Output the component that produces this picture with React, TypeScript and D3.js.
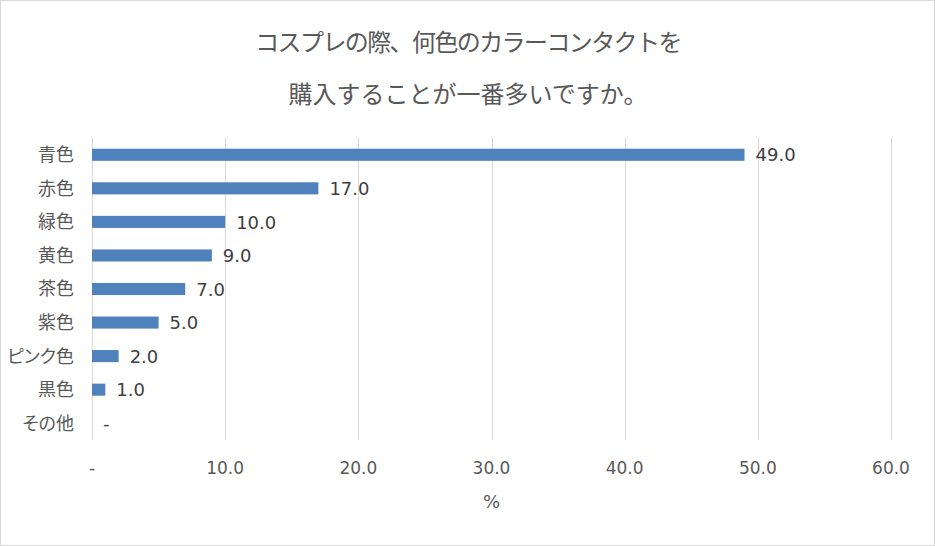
import React, { useRef, useEffect } from "react";
import * as d3 from "d3";

// chart data
const categories = ["青色", "赤色", "緑色", "黄色", "茶色", "紫色", "ピンク色", "黒色", "その他"];
const values = [49.0, 17.0, 10.0, 9.0, 7.0, 5.0, 2.0, 1.0, 0];
const xTicks = [0, 10, 20, 30, 40, 50, 60];
const titleLines = ["コスプレの際、何色のカラーコンタクトを", "購入することが一番多いですか。"];
const axisTitle = "%";

const W = 935;
const H = 546;
const JP = "'Noto Sans CJK JP', 'Noto Sans', sans-serif";
const NUM = "'DejaVu Sans', 'Noto Sans', sans-serif";

// excel style: zero shows as "-"
const fmt = (v: number) => (v === 0 ? "-" : v.toFixed(1));

function BarChart() {
  const svgRef = useRef<SVGSVGElement>(null);

  useEffect(() => {
    const svg = d3.select(svgRef.current);
    svg.selectAll("*").remove();

    const x = d3.scaleLinear().domain([0, 60]).range([92, 891]);
    const y = d3.scaleBand().domain(categories).range([138, 440]).paddingInner(0.64).paddingOuter(0.32);

    // frame
    svg
      .append("rect")
      .attr("x", 0.5)
      .attr("y", 0.5)
      .attr("width", W - 1)
      .attr("height", H - 1)
      .attr("fill", "#fff")
      .attr("stroke", "#d9d9d9");

    // title (first line is a bit tighter in the original)
    svg
      .selectAll(".title")
      .data(titleLines)
      .join("text")
      .attr("class", "title")
      .attr("x", 468)
      .attr("y", (d, i) => 51 + i * 52)
      .attr("text-anchor", "middle")
      .attr("font-family", JP)
      .attr("font-size", 24)
      .attr("letter-spacing", (d, i) => (i === 0 ? -1.6 : 0))
      .attr("fill", "#595959")
      .text((d) => d);

    // gridlines
    svg
      .selectAll(".grid")
      .data(xTicks)
      .join("line")
      .attr("class", "grid")
      .attr("x1", (d) => Math.round(x(d)) + 0.5)
      .attr("x2", (d) => Math.round(x(d)) + 0.5)
      .attr("y1", 138)
      .attr("y2", 440)
      .attr("stroke", "#d9d9d9");

    // tick labels
    svg
      .selectAll(".tick-label")
      .data(xTicks)
      .join("text")
      .attr("class", "tick-label")
      .attr("x", (d) => x(d))
      .attr("y", 474)
      .attr("text-anchor", "middle")
      .attr("font-family", NUM)
      .attr("font-size", 17)
      .attr("fill", "#595959")
      .text((d) => fmt(d));

    // axis title
    svg
      .append("text")
      .attr("x", x(30))
      .attr("y", 508)
      .attr("text-anchor", "middle")
      .attr("font-family", NUM)
      .attr("font-size", 18)
      .attr("fill", "#595959")
      .text(axisTitle);

    // category labels
    svg
      .selectAll(".cat")
      .data(categories)
      .join("text")
      .attr("class", "cat")
      .attr("x", 74)
      .attr("y", (d) => y(d)! + y.bandwidth() / 2)
      .attr("dy", "0.36em")
      .attr("text-anchor", "end")
      .attr("font-family", JP)
      .attr("font-size", 18)
      .style("font-feature-settings", "'palt'")
      .attr("fill", "#595959")
      .text((d) => d);

    // bars
    svg
      .selectAll(".bar")
      .data(values)
      .join("rect")
      .attr("class", "bar")
      .attr("x", x(0))
      .attr("y", (d, i) => y(categories[i])!)
      .attr("width", (d) => x(d) - x(0))
      .attr("height", y.bandwidth())
      .attr("fill", "#4f81bd");

    // value labels
    svg
      .selectAll(".val")
      .data(values)
      .join("text")
      .attr("class", "val")
      .attr("x", (d) => x(d) + 11)
      .attr("y", (d, i) => y(categories[i])! + y.bandwidth() / 2)
      .attr("dy", "0.37em")
      .attr("font-family", NUM)
      .attr("font-size", 18)
      .attr("fill", "#404040")
      .text((d) => fmt(d));
  }, []);

  return <svg ref={svgRef} width={W} height={H} style={{ display: "block" }}></svg>;
}

export default function App() {
  return (
    <div style={{ position: "fixed", left: 0, top: 0 }}>
      <BarChart />
    </div>
  );
}
